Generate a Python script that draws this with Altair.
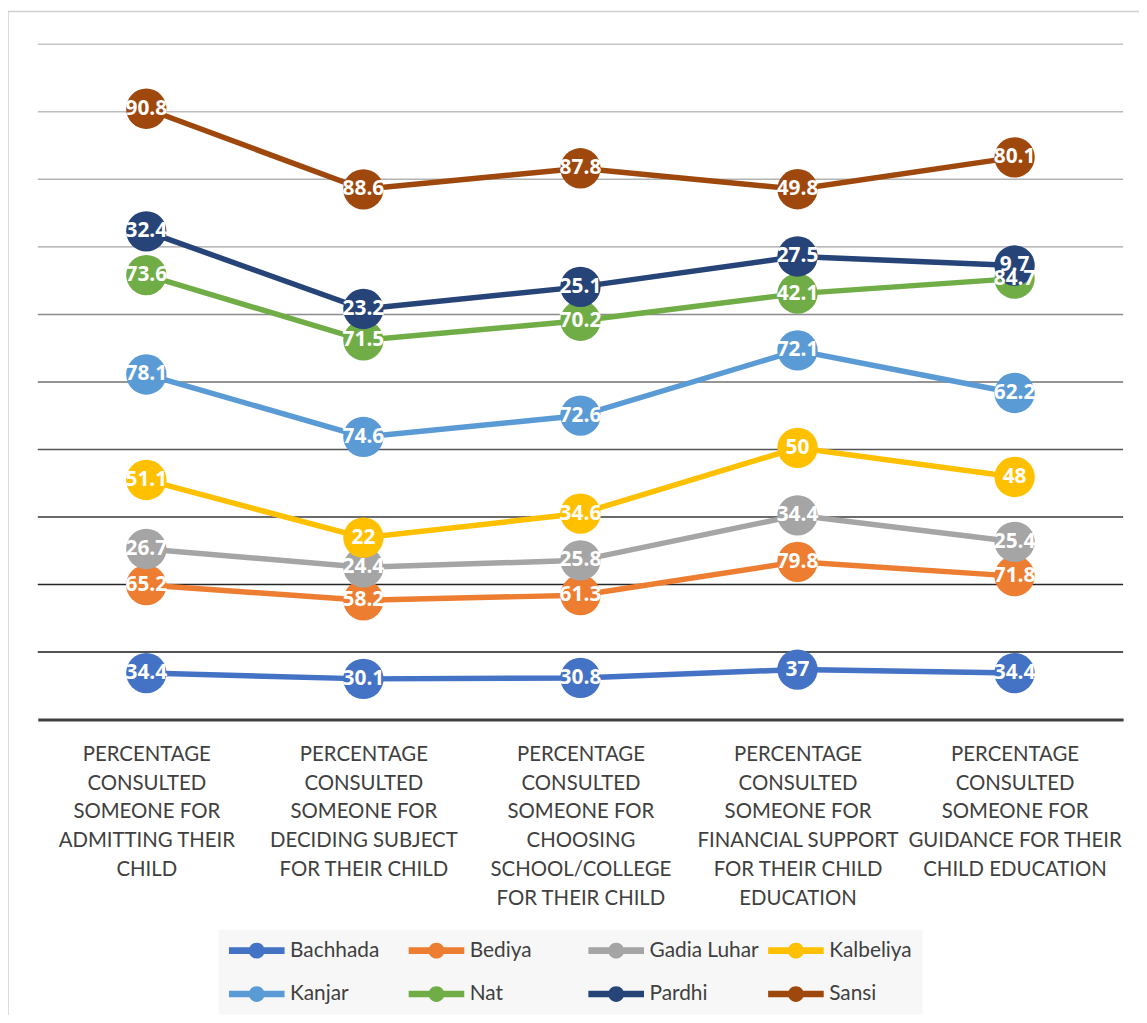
import altair as alt
import pandas as pd

categories = [
    "PERCENTAGE|CONSULTED|SOMEONE FOR|ADMITTING THEIR|CHILD",
    "PERCENTAGE|CONSULTED|SOMEONE FOR|DECIDING SUBJECT|FOR THEIR CHILD",
    "PERCENTAGE|CONSULTED|SOMEONE FOR|CHOOSING|SCHOOL/COLLEGE|FOR THEIR CHILD",
    "PERCENTAGE|CONSULTED|SOMEONE FOR|FINANCIAL SUPPORT|FOR THEIR CHILD|EDUCATION",
    "PERCENTAGE|CONSULTED|SOMEONE FOR|GUIDANCE FOR THEIR|CHILD EDUCATION",
]
series = ["Bachhada", "Bediya", "Gadia Luhar", "Kalbeliya", "Kanjar", "Nat", "Pardhi", "Sansi"]
colors = ["#4472C4", "#ED7D31", "#A5A5A5", "#FFC000", "#5B9BD5", "#70AD47", "#264478", "#9E480E"]

bachhada = [34.4, 30.1, 30.8, 37, 34.4]
bediya = [65.2, 58.2, 61.3, 79.8, 71.8]
gadia_luhar = [26.7, 24.4, 25.8, 34.4, 25.4]
kalbeliya = [51.1, 22, 34.6, 50, 48]
kanjar = [78.1, 74.6, 72.6, 72.1, 62.2]
nat = [73.6, 71.5, 70.2, 42.1, 84.7]
pardhi = [32.4, 23.2, 25.1, 27.5, 9.7]
sansi = [90.8, 88.6, 87.8, 49.8, 80.1]
values = [bachhada, bediya, gadia_luhar, kalbeliya, kanjar, nat, pardhi, sansi]

grid_values = [50, 100, 150, 200, 250, 300, 350, 400, 450, 500]
grid_colors = ["#1a1a1a", "#262626", "#3a3a3a", "#555555", "#707070",
               "#8c8c8c", "#a3a3a3", "#b3b3b3", "#bdbdbd", "#c6c6c6"]

rows = []
for si, (s, vals) in enumerate(zip(series, values)):
    for ci, (c, v) in enumerate(zip(categories, vals)):
        rows.append({"series": s, "idx": si, "cat": c, "ci": ci, "value": v})
df = pd.DataFrame(rows)
grid_df = pd.DataFrame({"g": grid_values, "gc": grid_colors})

FONT = "Lato"
LABEL_FONT = "Open Sans"
legend_path = ("M-1,-0.33L4.6,-0.33L4.6,0.33L-1,0.33Z "
               "M1.0,0A0.8,0.8 0 1,1 2.6,0A0.8,0.8 0 1,1 1.0,0Z")

scale = alt.Scale(domain=series, range=colors)
color_leg = alt.Color(
    "series:N", scale=scale,
    legend=alt.Legend(
        title=None, orient="none", direction="horizontal", legendX=182, legendY=892,
        columns=4, gridAlign="all", columnPadding=8, rowPadding=22, padding=10,
        fillColor="#f7f7f7", labelFont=FONT, labelFontSize=21, labelColor="#404040",
        symbolType=legend_path, symbolSize=400, labelOffset=41,
        symbolStrokeWidth=0, symbolOpacity=1,
    ),
)
color_noleg = alt.Color("series:N", scale=scale, legend=None)

x = alt.X(
    "cat:N", sort=categories, scale=alt.Scale(type="point", padding=0.5),
    axis=alt.Axis(title=None, labelAngle=0, labelExpr="split(datum.label, '|')",
                  labelFont=FONT, labelFontSize=20.5, labelColor="#404040",
                  labelLineHeight=29, labelPadding=25, labelLimit=0,
                  ticks=False, domainColor="#404040", domainWidth=3, grid=False),
)
y = alt.Y("y1:Q", scale=alt.Scale(domain=[0, 500]), axis=None)

base = alt.Chart(df).transform_stack(
    stack="value", groupby=["cat"], as_=["y0", "y1"],
    sort=[alt.SortField("idx", order="ascending")],
)

grid = alt.Chart(grid_df).mark_rule(strokeWidth=1.5).encode(
    y=alt.Y("g:Q", scale=alt.Scale(domain=[0, 500]), axis=None),
    color=alt.Color("gc:N", scale=None, legend=None),
)

lines = base.mark_line(strokeWidth=5.5).encode(
    x=x, y=y, color=color_noleg, order=alt.Order("ci:Q"),
)
points = base.mark_circle(size=1650, opacity=1).encode(
    x=x, y=y, color=color_leg,
)
texts = base.mark_text(color="white", fontWeight="bold", fontSize=21, font=LABEL_FONT,
                       baseline="middle", align="center").encode(
    x=x, y=y, text=alt.Text("value:Q"), detail="series:N",
)

border_df = pd.DataFrame({"a": [0]})
border_left = alt.Chart(border_df).mark_rule(color="#d0d0d0", strokeWidth=1.5).encode(
    x=alt.value(-30), y=alt.value(-33), y2=alt.value(1100))
border_top = alt.Chart(border_df).mark_rule(color="#d0d0d0", strokeWidth=1.5).encode(
    x=alt.value(-30), x2=alt.value(1200), y=alt.value(-33))

chart = alt.layer(border_left, border_top, grid, lines, points, texts).resolve_scale(
    color="independent"
).properties(
    width=1093, height=680,
    autosize=alt.AutoSizeParams(type="none"),
    padding={"left": 30, "top": 33, "right": 16, "bottom": 294},
    background="white",
).configure_view(stroke=None)

chart.save("out.html", embed_options={"renderer": "svg", "actions": False})
